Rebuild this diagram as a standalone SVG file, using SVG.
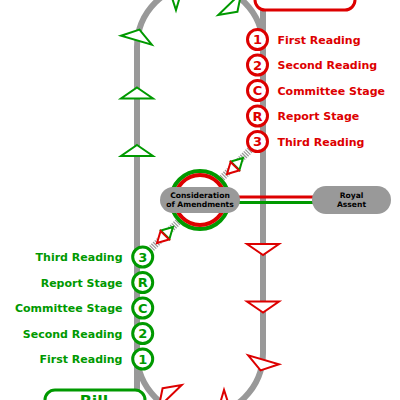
<svg xmlns="http://www.w3.org/2000/svg" xmlns:xlink="http://www.w3.org/1999/xlink" width="400" height="400" viewBox="0 0 400 400">
<style>
.trk{fill:none;stroke:#999;stroke-width:6}
.hatch{fill:none;stroke:#999;stroke-width:7;stroke-dasharray:1.2 1.2}
.tg{fill:#fff;stroke:#090;stroke-width:2}
.tr{fill:#fff;stroke:#d00;stroke-width:2}
.cg{fill:#fff;stroke:#090;stroke-width:3}
.cr{fill:#fff;stroke:#d00;stroke-width:3}
.ng{font-family:"DejaVu Sans",sans-serif;font-weight:bold;font-size:13px;fill:#090;text-anchor:middle}
.nr{font-family:"DejaVu Sans",sans-serif;font-weight:bold;font-size:13px;fill:#d00;text-anchor:middle}
.lg{font-family:"DejaVu Sans",sans-serif;font-weight:bold;font-size:11px;fill:#090;text-anchor:end}
.lr{font-family:"DejaVu Sans",sans-serif;font-weight:bold;font-size:11px;fill:#d00;text-anchor:start}
.pill{fill:#999}
.pt{font-family:"DejaVu Sans",sans-serif;font-weight:bold;font-size:7.6px;fill:#000;text-anchor:middle}
.box{font-family:"DejaVu Sans",sans-serif;font-weight:bold;font-size:16px;text-anchor:middle}
</style>
<defs>
<path id="tri" d="M0,0 L16,11 L-16,11 Z"/>
<path id="stg" d="M7,0 L-4,-6 L-4,6 Z"/>
</defs>
<g id="connectors">
<path class="trk" d="M137,420 V47 A63,63 0 0 1 263,47"/>
<path class="trk" d="M263,-20 V353 A63,63 0 0 1 137,353"/>
<line class="hatch" x1="222" y1="178" x2="250" y2="150"/>
<line class="hatch" x1="178" y1="222" x2="150" y2="250"/>
<line x1="238" y1="197" x2="314" y2="197" stroke="#d00" stroke-width="3"/>
<line x1="238" y1="202.5" x2="314" y2="202.5" stroke="#090" stroke-width="3"/>
</g>
<g id="arrows">
<use xlink:href="#tri" class="tg" transform="translate(137,145)"/>
<use xlink:href="#tri" class="tg" transform="translate(137,87.5)"/>
<use xlink:href="#tri" class="tg" transform="translate(139.44,29.63) rotate(16)"/>
<use xlink:href="#tri" class="tg" transform="translate(181.5,-8.6) rotate(72)"/>
<use xlink:href="#tri" class="tg" transform="translate(237.4,11.8) rotate(136)"/>
<use xlink:href="#tri" class="tr" transform="translate(263,255) rotate(180)"/>
<use xlink:href="#tri" class="tr" transform="translate(263,312.5) rotate(180)"/>
<use xlink:href="#tri" class="tr" transform="translate(260.56,370.37) rotate(196)"/>
<use xlink:href="#tri" class="tr" transform="translate(218.5,408.6) rotate(252)"/>
<use xlink:href="#tri" class="tr" transform="translate(162.6,388.2) rotate(316)"/>
<use xlink:href="#stg" class="tg" transform="translate(238,163) rotate(-45)"/>
<use xlink:href="#stg" class="tr" transform="translate(232,169) rotate(135)"/>
<use xlink:href="#stg" class="tg" transform="translate(168,232) rotate(-45)"/>
<use xlink:href="#stg" class="tr" transform="translate(162,238) rotate(135)"/>
</g>
<g id="bill">
<rect x="45" y="390" width="100" height="40" rx="10" fill="#fff" stroke="#090" stroke-width="3"/>
<text class="box" x="94" y="407" fill="#090">Bill</text>
</g>
<g id="lords-box">
<rect x="255" y="-30" width="100" height="40" rx="10" fill="#fff" stroke="#d00" stroke-width="3"/>
</g>
<g id="consideration">
<circle cx="200" cy="200" r="29" fill="none" stroke="#090" stroke-width="4"/>
<circle cx="200" cy="200" r="25" fill="none" stroke="#d00" stroke-width="4"/>
<rect class="pill" x="160" y="187" width="80" height="26" rx="13"/>
<text class="pt" x="200" y="198.3">Consideration</text>
<text class="pt" x="200" y="206.5">of Amendments</text>
</g>
<g id="royal-assent">
<rect class="pill" x="312" y="186" width="79" height="28" rx="14"/>
<text class="pt" x="351.5" y="198.3">Royal</text>
<text class="pt" x="351.5" y="206.5">Assent</text>
</g>
<g id="lords-stages">
<g id="l1"><circle class="cr" cx="257.5" cy="39.5" r="10"/><text class="nr" x="257.5" y="44.2">1</text><text class="lr" x="277.5" y="43.8">First Reading</text></g>
<g id="l2"><circle class="cr" cx="257.5" cy="65" r="10"/><text class="nr" x="257.5" y="69.7">2</text><text class="lr" x="277.5" y="69.3">Second Reading</text></g>
<g id="lC"><circle class="cr" cx="257.5" cy="90.5" r="10"/><text class="nr" x="257.5" y="95.2">C</text><text class="lr" x="277.5" y="94.8">Committee Stage</text></g>
<g id="lR"><circle class="cr" cx="257.5" cy="116" r="10"/><text class="nr" x="257.5" y="120.7">R</text><text class="lr" x="277.5" y="120.3">Report Stage</text></g>
<g id="l3"><circle class="cr" cx="257.5" cy="141.5" r="10"/><text class="nr" x="257.5" y="146.2">3</text><text class="lr" x="277.5" y="145.8">Third Reading</text></g>
</g>
<g id="commons-stages">
<g id="c3"><circle class="cg" cx="142.7" cy="257" r="10"/><text class="ng" x="142.7" y="261.7">3</text><text class="lg" x="122.5" y="261.3">Third Reading</text></g>
<g id="cR"><circle class="cg" cx="142.7" cy="282.5" r="10"/><text class="ng" x="142.7" y="287.2">R</text><text class="lg" x="122.5" y="286.8">Report Stage</text></g>
<g id="cC"><circle class="cg" cx="142.7" cy="308" r="10"/><text class="ng" x="142.7" y="312.7">C</text><text class="lg" x="122.5" y="312.3">Committee Stage</text></g>
<g id="c2"><circle class="cg" cx="142.7" cy="333.5" r="10"/><text class="ng" x="142.7" y="338.2">2</text><text class="lg" x="122.5" y="337.8">Second Reading</text></g>
<g id="c1"><circle class="cg" cx="142.7" cy="359" r="10"/><text class="ng" x="142.7" y="363.7">1</text><text class="lg" x="122.5" y="363.3">First Reading</text></g>
</g>
</svg>
